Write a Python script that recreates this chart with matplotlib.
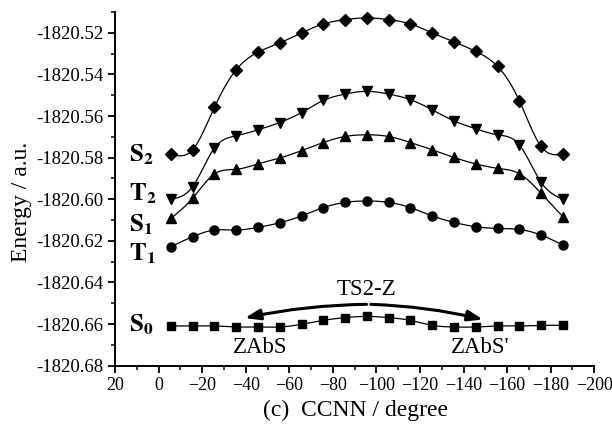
import matplotlib
matplotlib.use("Agg")
import matplotlib.pyplot as plt
import numpy as np
from matplotlib.ticker import MultipleLocator, FormatStrFormatter

plt.rcParams['font.family'] = ['Liberation Serif', 'DejaVu Serif']
plt.rcParams['mathtext.fontset'] = 'stix'

# dihedral angle CCNN (degree)
ccnn = [-5.6, -15.6, -25.6, -35.6, -45.6, -55.6, -65.6, -75.6, -85.6, -95.6,
        -105.6, -115.6, -125.6, -135.6, -145.6, -155.6, -165.6, -175.6, -185.6]

# energies (a.u.)
s2 = [-1820.5783, -1820.5762, -1820.5558, -1820.5377, -1820.5293, -1820.5248,
      -1820.5200, -1820.5157, -1820.5136, -1820.5128, -1820.5136, -1820.5157,
      -1820.5200, -1820.5243, -1820.5289, -1820.5361, -1820.5526, -1820.5746,
      -1820.5783]
t2 = [-1820.6000, -1820.5939, -1820.5754, -1820.5695, -1820.5666, -1820.5631,
      -1820.5583, -1820.5525, -1820.5494, -1820.5481, -1820.5494, -1820.5521,
      -1820.5570, -1820.5623, -1820.5661, -1820.5690, -1820.5738, -1820.5918,
      -1820.6000]
s1 = [-1820.6092, -1820.5995, -1820.5878, -1820.5856, -1820.5830, -1820.5802,
      -1820.5766, -1820.5727, -1820.5698, -1820.5690, -1820.5698, -1820.5727,
      -1820.5762, -1820.5799, -1820.5830, -1820.5851, -1820.5877, -1820.5971,
      -1820.6084]
t1 = [-1820.6228, -1820.6180, -1820.6148, -1820.6148, -1820.6135, -1820.6113,
      -1820.6080, -1820.6040, -1820.6015, -1820.6008, -1820.6015, -1820.6040,
      -1820.6080, -1820.6111, -1820.6132, -1820.6140, -1820.6145, -1820.6172,
      -1820.6220]
s0 = [-1820.6609, -1820.6609, -1820.6609, -1820.6614, -1820.6614, -1820.6614,
      -1820.6601, -1820.6582, -1820.6569, -1820.6563, -1820.6569, -1820.6582,
      -1820.6606, -1820.6614, -1820.6614, -1820.6609, -1820.6609, -1820.6606,
      -1820.6606]

state_labels = [r'$\mathbf{S_2}$', r'$\mathbf{T_2}$', r'$\mathbf{S_1}$',
                r'$\mathbf{T_1}$', r'$\mathbf{S_0}$']
label_y = [-1820.5819, -1820.6003, -1820.6155, -1820.6293, -1820.6637]


def natural_spline(x, y, per=12):
    # natural cubic spline through the points, for the smooth connecting line
    x = np.asarray(x, float)
    y = np.asarray(y, float)
    n = len(x)
    h = np.diff(x)
    A = np.zeros((n, n))
    r = np.zeros(n)
    A[0, 0] = A[-1, -1] = 1
    for i in range(1, n - 1):
        A[i, i - 1] = h[i - 1]
        A[i, i] = 2 * (h[i - 1] + h[i])
        A[i, i + 1] = h[i]
        r[i] = 6 * ((y[i + 1] - y[i]) / h[i] - (y[i] - y[i - 1]) / h[i - 1])
    M = np.linalg.solve(A, r)
    xs, ys = [], []
    for i in range(n - 1):
        t = np.linspace(x[i], x[i + 1], per, endpoint=False)
        a = (x[i + 1] - t) / h[i]
        b = (t - x[i]) / h[i]
        yy = a * y[i] + b * y[i + 1] + ((a**3 - a) * M[i] + (b**3 - b) * M[i + 1]) * h[i]**2 / 6
        xs.append(t)
        ys.append(yy)
    xs.append([x[-1]])
    ys.append([y[-1]])
    return np.concatenate(xs), np.concatenate(ys)


fig = plt.figure(figsize=(6.12, 4.32), dpi=100)
ax = fig.add_axes([0.188, 0.1535, 0.783, 0.8185])

series = [(s2, 'D', 6), (t2, 'v', 7.5), (s1, '^', 7.5), (t1, 'o', 6.5), (s0, 's', 5.5)]
for ys, mk, ms in series:
    sx, sy = natural_spline(ccnn, ys)
    ax.plot(sx, sy, color='black', lw=0.9)
    ax.plot(ccnn, ys, linestyle='none', marker=mk, markersize=ms, color='black')

for lab, ly in zip(state_labels, label_y):
    ax.text(13.5, ly, lab, fontsize=18, ha='left', va='baseline')

# transition-state arrows
arrow = dict(arrowstyle='-|>,head_length=0.9,head_width=0.32', lw=2.2,
             color='black', shrinkA=0, shrinkB=0)
ax.annotate('', xy=(-39.6, -1820.6571), xytext=(-95.5, -1820.6505),
            arrowprops=dict(arrow, connectionstyle='arc3,rad=0.05'))
ax.annotate('', xy=(-148.9, -1820.6578), xytext=(-97.4, -1820.6505),
            arrowprops=dict(arrow, connectionstyle='arc3,rad=-0.05'))
ax.text(-95.5, -1820.6432, 'TS2-Z', fontsize=16.5, ha='center', va='center')
ax.text(-46.5, -1820.6712, 'ZAbS', fontsize=16.5, ha='center', va='center')
ax.text(-147.5, -1820.6712, "ZAbS'", fontsize=16.5, ha='center', va='center')

ax.set_xlim(20, -200)
ax.set_ylim(-1820.68, -1820.51)
ax.xaxis.set_major_locator(MultipleLocator(20))
ax.xaxis.set_minor_locator(MultipleLocator(10))
ax.yaxis.set_major_locator(MultipleLocator(0.02))
ax.yaxis.set_minor_locator(MultipleLocator(0.01))
ax.yaxis.set_major_formatter(FormatStrFormatter('%.2f'))

for side in ['top', 'right']:
    ax.spines[side].set_visible(False)
for side in ['left', 'bottom']:
    ax.spines[side].set_linewidth(1.4)
ax.tick_params(which='major', direction='out', length=5, width=1.3)
ax.tick_params(which='minor', direction='out', length=3, width=1.1)
ax.tick_params(axis='y', labelsize=13.5)
ax.tick_params(axis='x', labelsize=13)

ax.set_ylabel('Energy / a.u.', fontsize=17)
ax.set_xlabel('(c)  CCNN / degree', fontsize=17)
ax.yaxis.set_label_coords(-0.174, 0.463)
ax.xaxis.set_label_coords(0.501, -0.097)

fig.savefig('out.png', dpi=100)
